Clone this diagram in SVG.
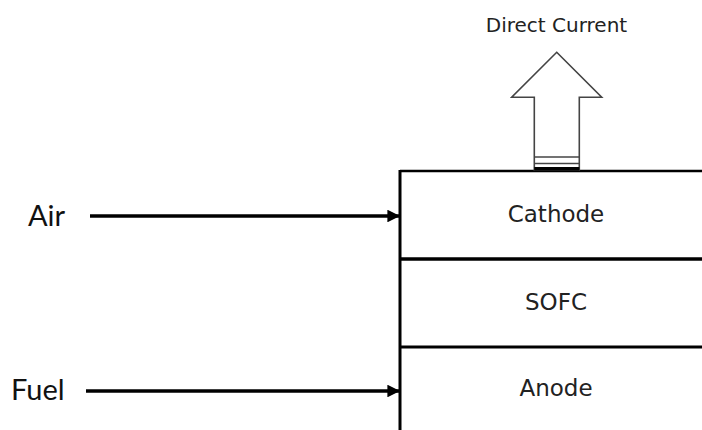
<svg xmlns="http://www.w3.org/2000/svg" width="702" height="430" viewBox="0 0 702 430">
  <style>
    .lbl { font-family: "DejaVu Sans", sans-serif; fill: #222; text-anchor: middle; }
    .side { font-family: Lato, "Liberation Sans", sans-serif; font-size: 29px; fill: #111; }
    .edge { stroke: #000; fill: none; }
    .flow { stroke: #000; stroke-width: 3.5; fill: none; }
  </style>
  <defs>
    <marker id="ah" viewBox="0 0 10 10" refX="10" refY="5" markerWidth="3.6" markerHeight="3.6" markerUnits="strokeWidth" orient="auto">
      <path d="M0,0 L10,5 L0,10 Z" fill="#000"/>
    </marker>
  </defs>
  <rect width="702" height="430" fill="#fff"/>

  <g id="stack">
    <line class="edge" x1="400" y1="171" x2="702" y2="171" stroke-width="2.5"/>
    <line class="edge" x1="400" y1="170" x2="400" y2="430" stroke-width="3"/>
  </g>
  <g id="cathode">
    <text class="lbl" x="556" y="222" font-size="23">Cathode</text>
  </g>
  <g id="sofc">
    <line class="edge" x1="400" y1="259" x2="702" y2="259" stroke-width="3.3"/>
    <text class="lbl" x="556" y="310" font-size="23">SOFC</text>
  </g>
  <g id="anode">
    <line class="edge" x1="400" y1="347" x2="702" y2="347" stroke-width="2.8"/>
    <text class="lbl" x="556" y="396" font-size="23">Anode</text>
  </g>
  <g id="direct-current">
    <polygon points="556.7,52.3 601.7,97.3 579.3,97.3 579.3,170 534.3,170 534.3,97.3 511.7,97.3" fill="#fff" stroke="#444" stroke-width="1.6"/>
    <line x1="534.3" y1="157" x2="579.3" y2="157" stroke="#444" stroke-width="1.5"/>
    <line x1="534.3" y1="163.5" x2="579.3" y2="163.5" stroke="#444" stroke-width="1.5"/>
    <rect x="534.3" y="167" width="45" height="3.5" fill="#000"/>
    <text class="lbl" x="556.5" y="32" font-size="20">Direct Current</text>
  </g>
  <g id="air">
    <text class="side" x="28" y="226">Air</text>
  </g>
  <g id="fuel">
    <text class="side" x="11" y="400">Fuel</text>
  </g>
  <g id="connectors">
    <line class="flow" x1="90" y1="216" x2="400" y2="216" marker-end="url(#ah)"/>
    <line class="flow" x1="86" y1="391" x2="400" y2="391" marker-end="url(#ah)"/>
  </g>
</svg>
